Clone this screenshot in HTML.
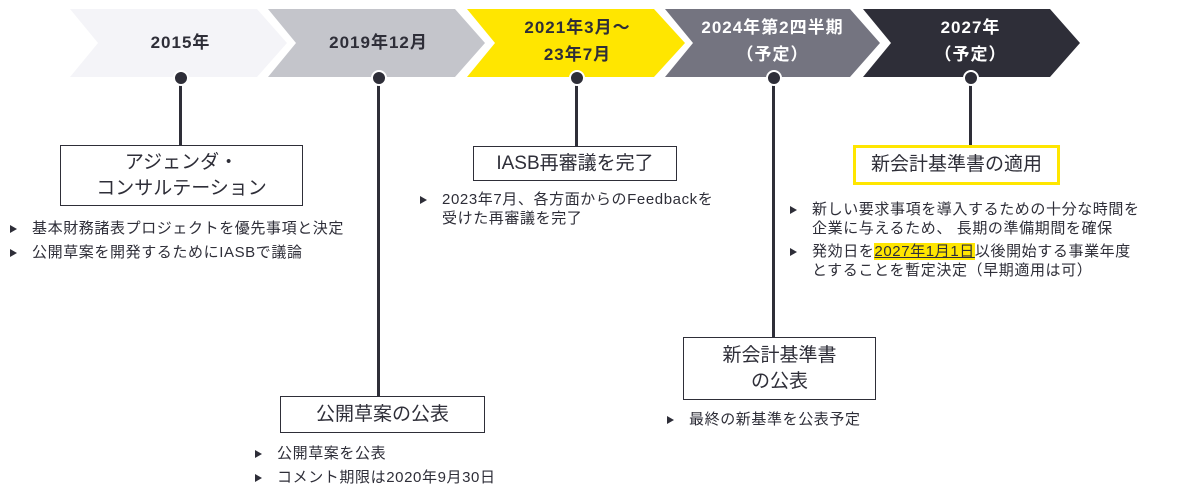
<!DOCTYPE html>
<html><head><meta charset="utf-8"><style>
body{margin:0;width:1180px;height:495px;background:#fff;position:relative;overflow:hidden;font-family:"Liberation Sans","Noto Sans CJK JP",sans-serif;color:#2e2e38}
.t{position:absolute;text-align:center;font-size:17px;line-height:27px;font-weight:bold;letter-spacing:1px}
.box{position:absolute;border:1px solid #2e2e38;background:#fff;text-align:center;font-size:19px;line-height:26px;box-sizing:border-box;display:flex;align-items:center;justify-content:center}
.ln{position:absolute;width:3px;background:#2e2e38}
.dot{position:absolute;width:12px;height:12px;border-radius:50%;background:#2e2e38;border:2px solid #fff}
.b{position:absolute;font-size:15px;line-height:19px;letter-spacing:0.6px;white-space:nowrap}
.b div{position:relative;padding-left:24px}
.b div:before{content:"";position:absolute;left:2px;top:6px;border-left:7px solid #2e2e38;border-top:4px solid transparent;border-bottom:4px solid transparent}
</style></head><body>
<svg width="1180" height="100" style="position:absolute;left:0;top:0">
<polygon points="70,9 257,9 287,43 257,77 70,77 98,43" fill="#f4f4f8"/>
<polygon points="268,9 455,9 485,43 455,77 268,77 296,43" fill="#c4c5cb"/>
<polygon points="467,9 654,9 685,43 654,77 467,77 495,43" fill="#ffe600"/>
<polygon points="665,9 850,9 880,43 850,77 665,77 693,43" fill="#747480"/>
<polygon points="863,9 1050,9 1080,43 1050,77 863,77 891,43" fill="#2e2e38"/>
</svg>
<div class="t" style="left:98px;width:165px;top:29px">2015年</div>
<div class="t" style="left:296px;width:165px;top:29px">2019年12月</div>
<div class="t" style="left:495px;width:165px;top:14px">2021年3月～<br>23年7月</div>
<div class="t" style="left:690px;width:165px;top:14px;color:#fff">2024年第2四半期<br>（予定）</div>
<div class="t" style="left:888px;width:165px;top:14px;color:#fff">2027年<br>（予定）</div>

<div class="ln" style="left:179px;top:78px;height:68px"></div>
<div class="ln" style="left:377px;top:78px;height:320px"></div>
<div class="ln" style="left:575px;top:78px;height:70px"></div>
<div class="ln" style="left:772px;top:78px;height:260px"></div>
<div class="ln" style="left:969px;top:78px;height:70px"></div>
<div class="dot" style="left:173px;top:70px"></div>
<div class="dot" style="left:371px;top:70px"></div>
<div class="dot" style="left:569px;top:70px"></div>
<div class="dot" style="left:766px;top:70px"></div>
<div class="dot" style="left:963px;top:70px"></div>

<div class="box" style="left:60px;top:145px;width:243px;height:61px">アジェンダ・<br>コンサルテーション</div>
<div class="box" style="left:280px;top:396px;width:205px;height:37px">公開草案の公表</div>
<div class="box" style="left:473px;top:146px;width:204px;height:35px">IASB再審議を完了</div>
<div class="box" style="left:683px;top:337px;width:193px;height:63px">新会計基準書<br>の公表</div>
<div class="box" style="left:853px;top:145px;width:207px;height:40px;border:3.5px solid #ffe600">新会計基準書の適用</div>

<div class="b" style="left:8px;top:219px"><div style="margin-bottom:5px">基本財務諸表プロジェクトを優先事項と決定</div><div>公開草案を開発するためにIASBで議論</div></div>
<div class="b" style="left:253px;top:444px"><div style="margin-bottom:5px">公開草案を公表</div><div>コメント期限は2020年9月30日</div></div>
<div class="b" style="left:418px;top:190px"><div>2023年7月、各方面からのFeedbackを<br>受けた再審議を完了</div></div>
<div class="b" style="left:665px;top:410px"><div>最終の新基準を公表予定</div></div>
<div class="b" style="left:788px;top:200px"><div style="margin-bottom:4px">新しい要求事項を導入するための十分な時間を<br>企業に与えるため、 長期の準備期間を確保</div><div>発効日を<span style="background:#ffe600;text-decoration:underline">2027年1月1日</span>以後開始する事業年度<br>とすることを暫定決定（早期適用は可）</div></div>
</body></html>
